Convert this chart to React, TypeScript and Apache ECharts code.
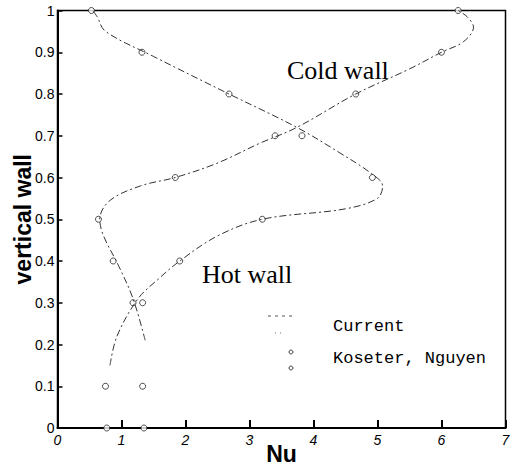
import React, { useEffect, useRef } from "react";
import * as echarts from "echarts";

// Current solution curves (Nu, vertical position)
const hotCurveNu = [0.82, 0.93, 1.26, 1.6, 1.91, 2.5, 3.2, 4.5, 5.0, 5.08, 4.9, 4.4, 3.74, 2.68, 1.5, 0.75, 0.62, 0.55];
const hotCurveY = [0.15, 0.22, 0.31, 0.36, 0.4, 0.46, 0.5, 0.525, 0.55, 0.58, 0.61, 0.66, 0.72, 0.8, 0.89, 0.95, 0.985, 1.0];
const coldCurveNu = [1.37, 1.18, 0.95, 0.72, 0.66, 0.82, 1.3, 1.84, 2.49, 3.16, 3.74, 4.66, 5.5, 6.0, 6.34, 6.5, 6.4, 6.26];
const coldCurveY = [0.21, 0.31, 0.39, 0.46, 0.5, 0.545, 0.58, 0.6, 0.634, 0.682, 0.72, 0.8, 0.86, 0.9, 0.925, 0.96, 0.985, 1.0];

// Koseter, Nguyen data points
const expHotNu = [0.53, 1.32, 2.68, 3.82, 4.92, 3.2, 1.91, 1.33, 1.33, 1.35];
const expHotY = [1.0, 0.9, 0.8, 0.7, 0.6, 0.5, 0.4, 0.3, 0.1, 0.0];
const expColdNu = [6.26, 6.0, 4.66, 3.4, 1.84, 0.64, 0.87, 1.18, 0.75, 0.77];
const expColdY = [1.0, 0.9, 0.8, 0.7, 0.6, 0.5, 0.4, 0.3, 0.1, 0.0];

const zip = (a: number[], b: number[]) => a.map((v, i) => [v, b[i]]);

export default function App() {
  const ref = useRef<HTMLDivElement>(null);
  useEffect(() => {
    if (!ref.current) return;
    const chart = echarts.init(ref.current, undefined, { renderer: "svg" });
    const lineStyle = { type: [7, 3, 2, 3] as any, width: 1, color: "#333" };
    const markerStyle = { color: "#fff", borderColor: "#222", borderWidth: 1 };
    chart.setOption({
      animation: false,
      backgroundColor: "#fff",
      grid: {
        left: 57.5,
        top: 10.5,
        right: 7.5,
        bottom: 39,
        show: true,
        borderColor: "#000",
        borderWidth: 1.5,
        containLabel: false,
        outerBoundsMode: "none",
      },
      xAxis: {
        type: "value",
        min: 0,
        max: 7,
        interval: 1,
        name: "Nu",
        nameLocation: "middle",
        nameGap: 14,
        nameMoveOverlap: false,
        nameTextStyle: { fontFamily: "Liberation Sans", fontWeight: "bold", fontSize: 23, lineHeight: 23, color: "#000", verticalAlign: "top" },
        axisLine: { lineStyle: { color: "#000", width: 2 } },
        axisTick: { inside: true, length: 8, lineStyle: { color: "#000", width: 2 } },
        axisLabel: { fontFamily: "Liberation Sans", fontStyle: "italic", fontSize: 14, color: "#000", margin: 5 },
        splitLine: { show: false },
      },
      yAxis: {
        type: "value",
        min: 0,
        max: 1,
        interval: 0.1,
        name: "vertical wall",
        nameLocation: "middle",
        nameGap: 23,
        nameMoveOverlap: false,
        nameTextStyle: { fontFamily: "Liberation Sans", fontWeight: "bold", fontSize: 23, color: "#000" },
        axisLine: { lineStyle: { color: "#000", width: 2 } },
        axisTick: { inside: true, length: 5, lineStyle: { color: "#000", width: 1.5 } },
        axisLabel: { fontFamily: "Liberation Sans", fontSize: 14, color: "#000", margin: 3 },
        splitLine: { show: false },
      },
      series: [
        { type: "line", data: zip(hotCurveNu, hotCurveY), smooth: 0.35, showSymbol: false, lineStyle },
        { type: "line", data: zip(coldCurveNu, coldCurveY), smooth: 0.35, showSymbol: false, lineStyle },
        { type: "scatter", data: zip(expHotNu, expHotY), symbol: "circle", symbolSize: 6, itemStyle: markerStyle },
        { type: "scatter", data: zip(expColdNu, expColdY), symbol: "circle", symbolSize: 6, itemStyle: markerStyle },
      ],
      graphic: [
        { type: "text", left: 287, top: 57, style: { text: "Cold wall", fontFamily: "Liberation Serif", fontSize: 26, fill: "#000" } },
        { type: "text", left: 202, top: 261, style: { text: "Hot wall", fontFamily: "Liberation Serif", fontSize: 26, fill: "#000" } },
        { type: "line", shape: { x1: 268, y1: 316, x2: 292, y2: 316 }, style: { stroke: "#555", lineWidth: 1, lineDash: [3, 4] } },
        { type: "line", shape: { x1: 275, y1: 333, x2: 285, y2: 333 }, style: { stroke: "#777", lineWidth: 1, lineDash: [1, 4] } },
        { type: "text", left: 333, top: 318, style: { text: "Current", fontFamily: "Liberation Mono", fontSize: 17, fill: "#000" } },
        { type: "circle", shape: { cx: 291, cy: 352, r: 2 }, style: { fill: "#fff", stroke: "#444", lineWidth: 1 } },
        { type: "circle", shape: { cx: 291, cy: 368, r: 2 }, style: { fill: "#fff", stroke: "#444", lineWidth: 1 } },
        { type: "text", left: 333, top: 350, style: { text: "Koseter, Nguyen", fontFamily: "Liberation Mono", fontSize: 17, fill: "#000" } },
      ],
    });
    return () => chart.dispose();
  }, []);
  return <div ref={ref} style={{ position: "fixed", left: 0, top: 0, width: 513, height: 467 }} />;
}
